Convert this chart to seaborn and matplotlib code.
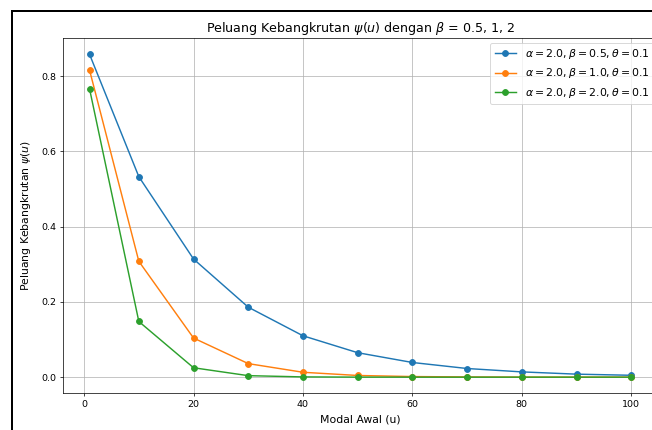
import matplotlib
matplotlib.use("Agg")
import matplotlib.pyplot as plt
from matplotlib.lines import Line2D
import seaborn as sns

# Data
u_values = [1, 10, 20, 30, 40, 50, 60, 70, 80, 90, 100]
psi_beta_05 = [0.858, 0.533, 0.314, 0.186, 0.110, 0.065, 0.039, 0.023, 0.014, 0.008, 0.005]
psi_beta_10 = [0.816, 0.308, 0.104, 0.036, 0.013, 0.0045, 0.0016, 0.0006, 0.0002, 0.0001, 0.00003]
psi_beta_20 = [0.766, 0.148, 0.025, 0.004, 0.0007, 0.0001, 0.00002, 0.0, 0.0, 0.0, 0.0]
labels = [r"$\alpha = 2.0, \beta = 0.5, \theta = 0.1$",
          r"$\alpha = 2.0, \beta = 1.0, \theta = 0.1$",
          r"$\alpha = 2.0, \beta = 2.0, \theta = 0.1$"]
series = [psi_beta_05, psi_beta_10, psi_beta_20]
colors = ["#1f77b4", "#ff7f0e", "#2ca02c"]

DPI = 65
W, H = 652, 430
fig = plt.figure(figsize=(W / DPI, H / DPI), dpi=DPI)
ax = fig.add_axes([62.5 / W, 1 - 393.3 / H, (658.4 - 62.5) / W, (393.3 - 38.3) / H])

for ys, lab, c in zip(series, labels, colors):
    sns.lineplot(x=u_values, y=ys, ax=ax, marker="o", color=c, label=lab,
                 markeredgecolor=c, markeredgewidth=1.0, markersize=6.5, linewidth=1.6)

ax.set_title(r"Peluang Kebangkrutan $\psi(u)$ dengan $\beta$ = 0.5, 1, 2", fontsize=14, pad=7)
ax.set_xlabel("Modal Awal (u)", fontsize=12, labelpad=6.5)
ax.set_ylabel(r"Peluang Kebangkrutan $\psi(u)$", fontsize=12, labelpad=9)
ax.tick_params(labelsize=10.5)
ax.grid(True)
ax.legend(loc="upper right", fontsize=12, borderaxespad=0.4)

# screenshot frame (black border top/left)
lw = 2 * 72 / DPI
fig.add_artist(Line2D([11.8 / W, 11.8 / W], [0, 1 - 11.4 / H], transform=fig.transFigure,
                      color="black", linewidth=lw))
fig.add_artist(Line2D([11.8 / W, 1], [1 - 11.4 / H, 1 - 11.4 / H], transform=fig.transFigure,
                      color="black", linewidth=lw))

fig.savefig("out.png", dpi=DPI)
